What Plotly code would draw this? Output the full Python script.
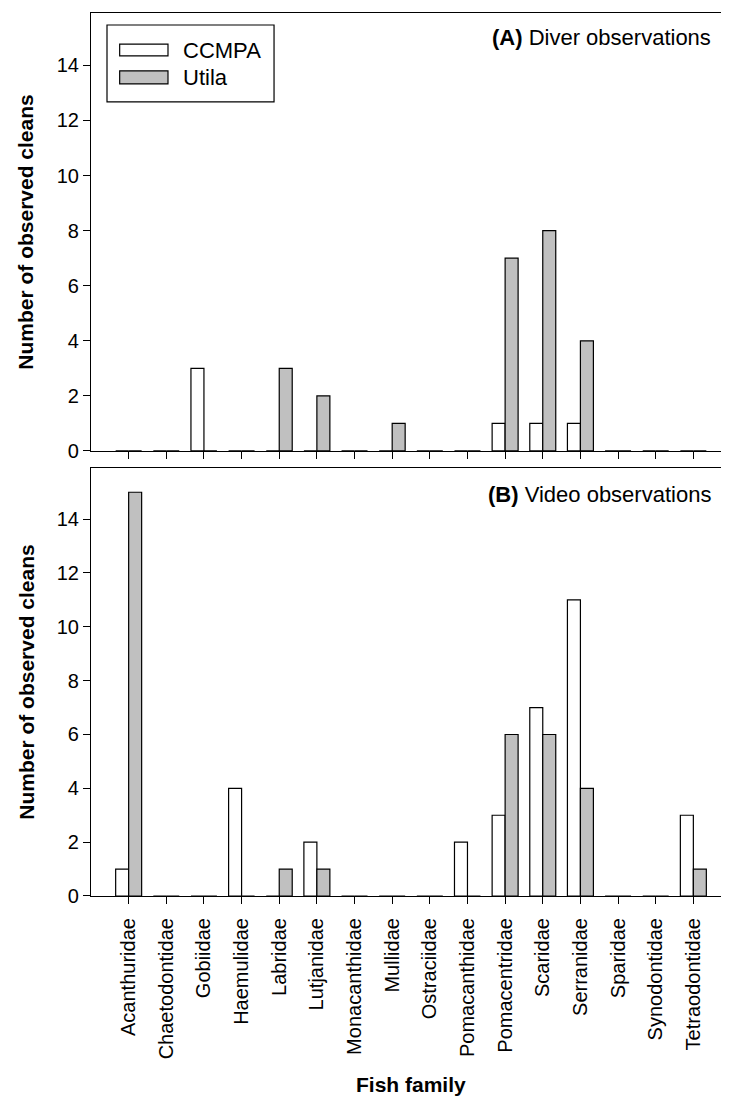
import plotly.graph_objects as go

# --- data ---
familias = [
    "Acanthuridae", "Chaetodontidae", "Gobiidae", "Haemulidae", "Labridae",
    "Lutjanidae", "Monacanthidae", "Mullidae", "Ostraciidae", "Pomacanthidae",
    "Pomacentridae", "Scaridae", "Serranidae", "Sparidae", "Synodontidae",
    "Tetraodontidae",
]
x_idx = list(range(len(familias)))

# (A) diver observations
diver_ccmpa = [0, 0, 3, 0, 0, 0, 0, 0, 0, 0, 1, 1, 1, 0, 0, 0]
diver_utila = [0, 0, 0, 0, 3, 2, 0, 1, 0, 0, 7, 8, 4, 0, 0, 0]

# (B) video observations
video_ccmpa = [1, 0, 0, 4, 0, 2, 0, 0, 0, 2, 3, 7, 11, 0, 0, 3]
video_utila = [15, 0, 0, 0, 1, 1, 0, 0, 0, 0, 6, 6, 4, 0, 0, 1]

y_ticks = [0, 2, 4, 6, 8, 10, 12, 14]

FONT = "Liberation Sans, Arial, sans-serif"
CINZA = "#c0c0c0"
LINHA = dict(color="black", width=1.2)

fig = go.Figure()

# barras: painel A (x/y) e painel B (x2/y2)
for xa, ya, ccmpa, utila in [("x", "y", diver_ccmpa, diver_utila),
                              ("x2", "y2", video_ccmpa, video_utila)]:
    fig.add_trace(go.Bar(x=x_idx, y=ccmpa, name="CCMPA", xaxis=xa, yaxis=ya,
                         marker=dict(color="white", line=LINHA), showlegend=False))
    fig.add_trace(go.Bar(x=x_idx, y=utila, name="Utila", xaxis=xa, yaxis=ya,
                         marker=dict(color=CINZA, line=LINHA), showlegend=False))

eixo_x = dict(
    range=[-1, len(familias)], tickmode="array", tickvals=x_idx,
    showline=True, linecolor="black", linewidth=1.2, mirror=True,
    ticks="outside", ticklen=7, tickcolor="black", tickwidth=1.2,
    showgrid=False, zeroline=False,
)
eixo_y = dict(
    range=[0, 15.9], tickvals=y_ticks,
    showline=True, linecolor="black", linewidth=1.2, mirror=True,
    ticks="outside", ticklen=7, tickcolor="black", tickwidth=1.2,
    showgrid=False, zeroline=False,
    tickfont=dict(family=FONT, size=20, color="black"),
)

fig.update_layout(
    width=729, height=1098,
    margin=dict(l=83, r=6, t=5, b=210),
    plot_bgcolor="white", paper_bgcolor="white",
    barmode="group", bargap=0.31, bargroupgap=0,
    font=dict(family=FONT, color="black"),
    xaxis=dict(eixo_x, anchor="y", showticklabels=False),
    yaxis=dict(eixo_y, domain=[0.504, 1], anchor="x"),
    xaxis2=dict(eixo_x, anchor="y2", ticktext=familias, tickangle=-90,
                ticklabelstandoff=6,
                tickfont=dict(family=FONT, size=20, color="black")),
    yaxis2=dict(eixo_y, domain=[0, 0.4847], anchor="x2"),
)

# titulos dos eixos e rotulos dos paineis
anot = [
    dict(text="<b>Number of observed cleans</b>", xref="paper", yref="y domain",
         x=-0.102, y=0.5, textangle=-90, font=dict(size=21)),
    dict(text="<b>Number of observed cleans</b>", xref="paper", yref="y2 domain",
         x=-0.102, y=0.5, textangle=-90, font=dict(size=21)),
    dict(text="<b>Fish family</b>", xref="paper", yref="paper",
         x=0.5, y=-0.214, font=dict(size=21)),
    dict(text="<b>(A)</b> Diver observations", xref="x domain", yref="y domain",
         x=0.972, y=0.943, xanchor="right", font=dict(size=22)),
    dict(text="<b>(B)</b> Video observations", xref="x2 domain", yref="y2 domain",
         x=0.972, y=0.937, xanchor="right", font=dict(size=22)),
    # legenda
    dict(text="CCMPA", xref="x domain", yref="y domain", x=0.140, y=0.9155,
         xanchor="left", font=dict(size=22)),
    dict(text="Utila", xref="x domain", yref="y domain", x=0.140, y=0.853,
         xanchor="left", font=dict(size=22)),
]
for a in anot:
    a.setdefault("showarrow", False)
    a.setdefault("xanchor", "center")
    a.setdefault("yanchor", "middle")
    a["font"] = dict(family=FONT, color="black", **a["font"])
fig.update_layout(annotations=anot)

# caixa da legenda e amostras
fig.add_shape(type="rect", xref="x domain", yref="y domain",
              x0=0.025, x1=0.286, y0=0.797, y1=0.9726,
              line=dict(color="black", width=1.2), fillcolor="white", layer="below")
fig.add_shape(type="rect", xref="x domain", yref="y domain",
              x0=0.0448, x1=0.1203, y0=0.902, y1=0.929,
              line=LINHA, fillcolor="white")
fig.add_shape(type="rect", xref="x domain", yref="y domain",
              x0=0.0448, x1=0.1203, y0=0.838, y1=0.868,
              line=LINHA, fillcolor=CINZA)

fig.write_html("out.html")
